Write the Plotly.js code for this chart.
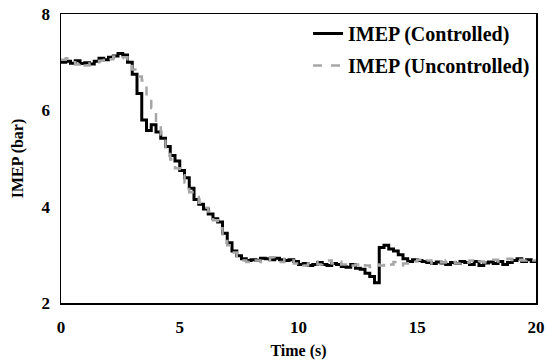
<!DOCTYPE html>
<html>
<head>
<meta charset="utf-8">
<script src="https://cdn.plot.ly/plotly-3.0.1.min.js"></script>
<style>html,body{margin:0;padding:0;background:#fff}#chart{width:547px;height:361px}</style>
</head>
<body>
<div id="chart"></div>
<script>
const time = [];
for (let i = 0; i <= 100; i++) time.push(+(i * 0.2).toFixed(1));

const imepControlled = [
  7.00, 7.02, 6.98, 7.03, 6.97, 6.99, 6.96, 7.02, 7.08, 7.05,
  7.10, 7.13, 7.18, 7.15, 7.00, 6.75, 6.35, 5.80, 5.58, 5.70,
  5.55, 5.42, 5.25, 5.06, 4.95, 4.75, 4.60, 4.38, 4.15, 4.05,
  3.95, 3.85, 3.75, 3.68, 3.45, 3.25, 3.08, 2.98, 2.92, 2.88,
  2.90, 2.89, 2.93, 2.92, 2.90, 2.93, 2.90, 2.88, 2.90, 2.86,
  2.80, 2.82, 2.78, 2.80, 2.84, 2.80, 2.78, 2.82, 2.80, 2.76,
  2.74, 2.80, 2.72, 2.70, 2.62, 2.55, 2.42, 3.15, 3.20, 3.12,
  3.08, 3.00, 2.92, 2.86, 2.90, 2.88, 2.86, 2.84, 2.82, 2.85,
  2.83, 2.80, 2.84, 2.82, 2.86, 2.84, 2.80, 2.86, 2.78, 2.83,
  2.85, 2.82, 2.86, 2.80, 2.84, 2.88, 2.92, 2.86, 2.90, 2.86,
  2.88
];

const imepUncontrolled = [
  7.05, 7.08, 7.00, 6.95, 7.00, 6.93, 6.97, 7.00, 7.03, 7.10,
  7.06, 7.12, 7.08, 7.10, 7.02, 6.85, 6.70, 6.62, 6.30, 6.05,
  5.72, 5.50, 5.20, 4.98, 4.80, 4.65, 4.50, 4.30, 4.20, 4.08,
  3.98, 3.90, 3.72, 3.55, 3.40, 3.20, 3.05, 2.95, 2.88, 2.85,
  2.82, 2.88, 2.85, 2.90, 2.95, 2.88, 2.85, 2.92, 2.88, 2.82,
  2.85, 2.78, 2.82, 2.86, 2.80, 2.84, 2.88, 2.82, 2.86, 2.80,
  2.84, 2.78, 2.80, 2.84, 2.78, 2.75, 2.80, 2.78, 2.84, 2.80,
  2.85, 2.78, 2.82, 2.88, 2.86, 2.90, 2.85, 2.88, 2.82, 2.86,
  2.84, 2.88, 2.85, 2.82, 2.86, 2.84, 2.88, 2.82, 2.86, 2.84,
  2.88, 2.90, 2.86, 2.88, 2.92, 2.86, 2.90, 2.88, 2.92, 2.88,
  2.86
];

const xTicks = [0, 5, 10, 15, 20];
const yTicks = [2, 4, 6, 8];

const fontFam = 'Liberation Serif';

const traces = [
  {
    x: time, y: imepControlled, type: 'scatter', mode: 'lines',
    name: 'IMEP (Controlled)', legendgroup: 'a',
    line: {color: '#000000', width: 3, shape: 'hv'}
  },
  {
    x: time, y: imepUncontrolled, type: 'scatter', mode: 'lines',
    name: 'IMEP (Uncontrolled)', legendgroup: 'b',
    line: {color: '#a6a6a6', width: 2.5, dash: 'dash', shape: 'hv'}
  }
];

const axisCommon = {
  showgrid: false, zeroline: false, showline: true, mirror: true,
  linecolor: '#000000', linewidth: 1.5, ticks: '',
  tickfont: {family: fontFam, size: 17, color: '#000', weight: 'bold'}
};

const layout = {
  width: 547, height: 361,
  margin: {l: 61, r: 11, t: 14, b: 58},
  paper_bgcolor: '#ffffff', plot_bgcolor: '#ffffff',
  font: {family: fontFam, color: '#000'},
  showlegend: true,
  legend: {
    x: 0.998, y: 1.0, xanchor: 'right', yanchor: 'top',
    bgcolor: 'rgba(255,255,255,0)', borderwidth: 0,
    font: {family: fontFam, size: 20, color: '#000', weight: 'bold'},
    traceorder: 'grouped', tracegroupgap: 3
  },
  xaxis: Object.assign({}, axisCommon, {
    range: [0, 20], tickvals: xTicks, ticktext: xTicks.map(String),
    ticklabelstandoff: 8,
    title: {text: 'Time (s)', standoff: 9, font: {family: fontFam, size: 16, color: '#000', weight: 'bold'}}
  }),
  yaxis: Object.assign({}, axisCommon, {
    range: [2, 8], tickvals: yTicks, ticktext: yTicks.map(String),
    ticklabelstandoff: 6,
    title: {text: 'IMEP (bar)', standoff: 14, font: {family: fontFam, size: 16, color: '#000', weight: 'bold'}}
  })
};

Plotly.newPlot('chart', traces, layout, {displayModeBar: false, staticPlot: true});
</script>
</body>
</html>
